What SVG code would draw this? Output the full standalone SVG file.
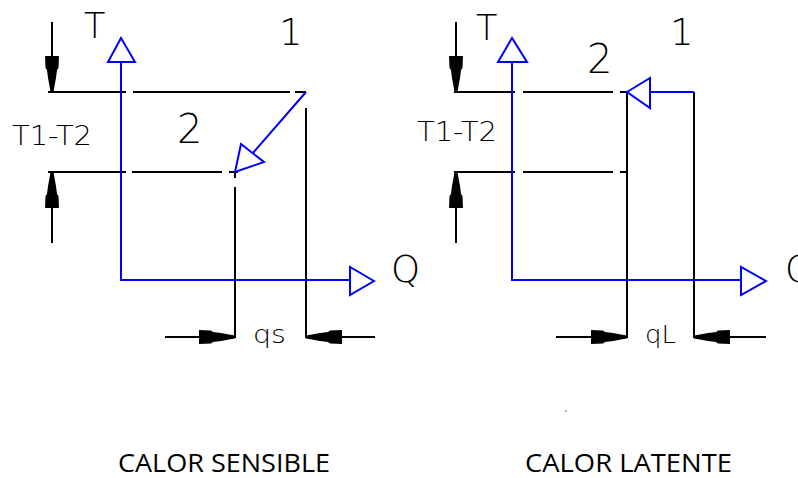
<svg xmlns="http://www.w3.org/2000/svg" xmlns:xlink="http://www.w3.org/1999/xlink" width="798" height="478" viewBox="0 0 798 478">
<style>
.k{stroke:#000;stroke-width:2;fill:none}
.b{stroke:#0000ff;stroke-width:2;fill:none}
.bh{stroke:#0000ff;stroke-width:2;fill:#fff;stroke-linejoin:miter}
.d{fill:#000}
.lbl{font-family:"DejaVu Sans","Liberation Sans",sans-serif;font-weight:200;fill:#000}
.cap{font-family:"Open Sans","Liberation Sans",sans-serif;font-size:25px;fill:#000}
</style>
<defs>
<path id="dimR" d="M0,-1.5 L-6,-2.5 L-14,-4 L-22,-5 L-24,-6.5 L-36,-7 L-36,7 L-24,6.5 L-22,5 L-14,4 L-6,2.5 L0,1.5 Z"/>
</defs>
<rect width="798" height="478" fill="#fff"/>
<g id="connectors">
<g id="left-lines">
<path class="k" d="M48,92 H126 M133,92 H290 M295,92 H306 M306,108 V338"/>
<path class="k" d="M48,172 H126 M132,172 H222 M229,172 H238 M235,172 V178 M235,187 V338"/>
<path class="k" d="M52,22 V92 M52,172 V243"/>
<path class="k" d="M165,337 H235 M306,337 H375"/>
<use href="#dimR" class="d" transform="translate(52,92) rotate(90)"/>
<use href="#dimR" class="d" transform="translate(52,172) rotate(-90)"/>
<use href="#dimR" class="d" transform="translate(235,337)"/>
<use href="#dimR" class="d" transform="translate(306,337) rotate(180)"/>
</g>
<g id="left-axes">
<path class="b" d="M121,62 V280 H350"/>
<polygon class="bh" points="121,38 108,62 135,62"/>
<polygon class="bh" points="374,281 350,267 350,295"/>
<path class="b" stroke-width="1.6" d="M306,92 L253,153"/>
<polygon class="bh" stroke-width="1.8" points="235,172 241,144 264,162"/>
</g>
<g id="right-lines">
<path class="k" d="M454,92 H515 M523,92 H613 M620,92 H627 M627,92 V338 M694,92 V338"/>
<path class="k" d="M454,172 H515 M523,172 H613 M620,172 H627"/>
<path class="k" d="M456,22 V92 M456,172 V243"/>
<path class="k" d="M556,337 H627 M694,337 H766"/>
<use href="#dimR" class="d" transform="translate(456,92) rotate(90)"/>
<use href="#dimR" class="d" transform="translate(456,172) rotate(-90)"/>
<use href="#dimR" class="d" transform="translate(627,337)"/>
<use href="#dimR" class="d" transform="translate(694,337) rotate(180)"/>
</g>
<g id="right-axes">
<path class="b" d="M512,62 V280 H741"/>
<polygon class="bh" points="512,38 498,62 527,62"/>
<polygon class="bh" points="766,281 741,267 741,295"/>
<path class="b" d="M694,92 H650"/>
<polygon class="bh" points="627,92 650,78 650,108"/>
</g>
</g>
<g id="labels-left">
<text class="lbl" x="84" y="38" font-size="35">T</text>
<text class="lbl" x="279" y="45" font-size="37">1</text>
<text class="lbl" x="177" y="143" font-size="40">2</text>
<text class="lbl" x="12" y="145" font-size="27" textLength="80" lengthAdjust="spacingAndGlyphs">T1-T2</text>
<text class="lbl" x="391" y="282" font-size="37">Q</text>
<text class="lbl" x="253" y="343" font-size="24" textLength="33" lengthAdjust="spacingAndGlyphs">qs</text>
</g>
<g id="labels-right">
<text class="lbl" x="476" y="40" font-size="35">T</text>
<text class="lbl" x="670" y="45" font-size="37">1</text>
<text class="lbl" x="587" y="73" font-size="40">2</text>
<text class="lbl" x="417" y="141" font-size="27" textLength="80" lengthAdjust="spacingAndGlyphs">T1-T2</text>
<text class="lbl" x="785" y="282" font-size="37">Q</text>
<text class="lbl" x="645" y="343" font-size="24" textLength="31" lengthAdjust="spacingAndGlyphs">qL</text>
</g>
<rect x="565" y="410" width="1.5" height="2" fill="#999"/>
<g id="captions">
<text class="cap" x="118" y="472" textLength="212" lengthAdjust="spacingAndGlyphs">CALOR SENSIBLE</text>
<text class="cap" x="525" y="472" textLength="207" lengthAdjust="spacingAndGlyphs">CALOR LATENTE</text>
</g>
</svg>
